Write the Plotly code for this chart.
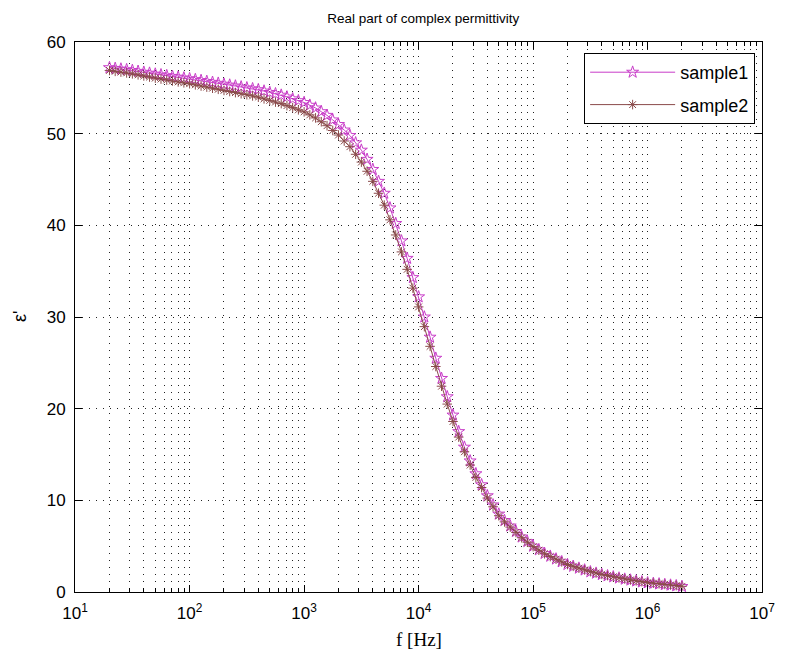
import numpy as np
import plotly.graph_objects as go

# Frequency grid (Hz): 20 Hz .. 2 MHz, 20 points per decade
freq_hz = np.logspace(np.log10(20), np.log10(2e6), 101)

sample1 = [
    57.2, 57.12, 57.05, 56.98, 56.9, 56.8, 56.7, 56.6, 56.5, 56.42,
    56.33, 56.25, 56.17, 56.08, 56.0, 55.9, 55.8, 55.7, 55.6, 55.5,
    55.4, 55.3, 55.2, 55.1, 55.0, 54.9, 54.8, 54.65, 54.5, 54.35,
    54.2, 54.0, 53.8, 53.6, 53.4, 53.1, 52.8, 52.4, 52.0, 51.5,
    51.0, 50.4, 49.8, 49.0, 48.2, 47.2, 46.1, 44.8, 43.5, 41.9,
    40.2, 38.3, 36.4, 34.3, 32.2, 30.0, 27.8, 25.5, 23.3, 21.3,
    19.3, 17.5, 15.8, 14.3, 12.9, 11.7, 10.5, 9.5, 8.5, 7.8,
    7.2, 6.6, 6.0, 5.5, 5.0, 4.6, 4.2, 3.9, 3.6, 3.3,
    3.0, 2.8, 2.6, 2.4, 2.2, 2.05, 1.9, 1.77, 1.65, 1.52,
    1.4, 1.3, 1.2, 1.1, 1.0, 0.94, 0.88, 0.81, 0.75, 0.68,
    0.6,
]

sample2 = [
    56.9, 56.8, 56.72, 56.63, 56.53, 56.42, 56.3, 56.18, 56.06, 55.96,
    55.85, 55.75, 55.65, 55.55, 55.45, 55.33, 55.2, 55.08, 54.96, 54.84,
    54.72, 54.6, 54.48, 54.36, 54.25, 54.12, 53.98, 53.8, 53.63, 53.45,
    53.28, 53.06, 52.84, 52.6, 52.38, 52.05, 51.72, 51.3, 50.87, 50.35,
    49.85, 49.2, 48.58, 47.75, 46.9, 45.9, 44.8, 43.5, 42.2, 40.6,
    38.95, 37.1, 35.2, 33.15, 31.1, 28.95, 26.8, 24.6, 22.45, 20.5,
    18.6, 16.9, 15.3, 13.85, 12.5, 11.4, 10.25, 9.3, 8.32, 7.65,
    7.08, 6.5, 5.92, 5.43, 4.95, 4.56, 4.17, 3.87, 3.58, 3.29,
    3.0, 2.8, 2.6, 2.41, 2.22, 2.07, 1.92, 1.79, 1.66, 1.54,
    1.42, 1.32, 1.22, 1.12, 1.02, 0.96, 0.9, 0.83, 0.77, 0.7,
    0.62,
]

x_major = [10, 100, 1000, 10000, 100000, 1000000, 10000000]
x_major_text = ["10<sup>1</sup>", "10<sup>2</sup>", "10<sup>3</sup>", "10<sup>4</sup>",
                "10<sup>5</sup>", "10<sup>6</sup>", "10<sup>7</sup>"]
x_minor = [m * 10 ** d for d in range(1, 7) for m in range(2, 10)]
y_ticks = [0, 10, 20, 30, 40, 50, 60]

series_names = ["sample1", "sample2"]
series_colors = ["#c83cc8", "#8a4a4a"]

FONT = "Liberation Sans, Arial, sans-serif"
SERIF = "Liberation Serif, Times New Roman, serif"
GRID_DASH = "1px,6px"
GRID_COLOR = "#222222"

fig = go.Figure()
fig.add_trace(go.Scatter(
    x=freq_hz, y=sample1, name=series_names[0], mode="lines+markers",
    legendgroup="g1",
    line=dict(color=series_colors[0], width=1),
    marker=dict(symbol="star-open", size=9, color=series_colors[0],
                line=dict(color=series_colors[0], width=1)),
))
fig.add_trace(go.Scatter(
    x=freq_hz, y=sample2, name=series_names[1], mode="lines+markers",
    legendgroup="g2",
    line=dict(color=series_colors[1], width=1),
    marker=dict(symbol="asterisk-open", size=8, color=series_colors[1],
                line=dict(color=series_colors[1], width=1)),
))

fig.update_layout(
    width=779, height=653,
    margin=dict(l=67, r=15, t=34, b=69),
    paper_bgcolor="white", plot_bgcolor="white",
    font=dict(family=FONT, size=17, color="black"),
    title=dict(text="Real part of complex permittivity", xref="container", x=0.533,
               xanchor="center", yref="container", y=0.985, yanchor="middle",
               font=dict(family=FONT, size=13.5, color="black")),
    showlegend=True,
    legend=dict(x=0.99, y=0.98, xanchor="right", yanchor="top",
                bgcolor="white", bordercolor="black", borderwidth=1,
                font=dict(family=FONT, size=18, color="black"),
                itemwidth=85, tracegroupgap=6),
)

fig.update_xaxes(
    type="log", range=[1, 7],
    tickmode="array", tickvals=x_major, ticktext=x_major_text,
    ticks="inside", ticklen=7, tickcolor="black", tickwidth=1,
    showline=True, linecolor="black", linewidth=1, mirror="ticks",
    showgrid=True, gridcolor=GRID_COLOR, gridwidth=1, griddash=GRID_DASH,
    zeroline=False, ticklabelstandoff=6,
    tickfont=dict(family=FONT, size=17),
    minor=dict(tickmode="array", tickvals=x_minor, ticks="inside", ticklen=4,
               tickcolor="black", showgrid=True, gridcolor=GRID_COLOR,
               griddash=GRID_DASH, gridwidth=1),
)
fig.update_yaxes(
    range=[0, 60], tickmode="array", tickvals=y_ticks,
    ticks="inside", ticklen=7, tickcolor="black", tickwidth=1,
    showline=True, linecolor="black", linewidth=1, mirror="ticks",
    showgrid=True, gridcolor=GRID_COLOR, gridwidth=1, griddash=GRID_DASH,
    zeroline=False, ticklabelstandoff=5,
    tickfont=dict(family=FONT, size=17),
)

fig.add_annotation(text="f [Hz]", xref="paper", yref="paper", x=0.5, y=-0.087,
                   xanchor="center", yanchor="middle", showarrow=False,
                   font=dict(family=SERIF, size=19, color="black"))
fig.add_annotation(text="ε'", xref="paper", yref="paper", x=-0.08, y=0.5,
                   xanchor="center", yanchor="middle", showarrow=False, textangle=-90,
                   font=dict(family=FONT, size=18, color="black"))

fig.write_html("out.html")
